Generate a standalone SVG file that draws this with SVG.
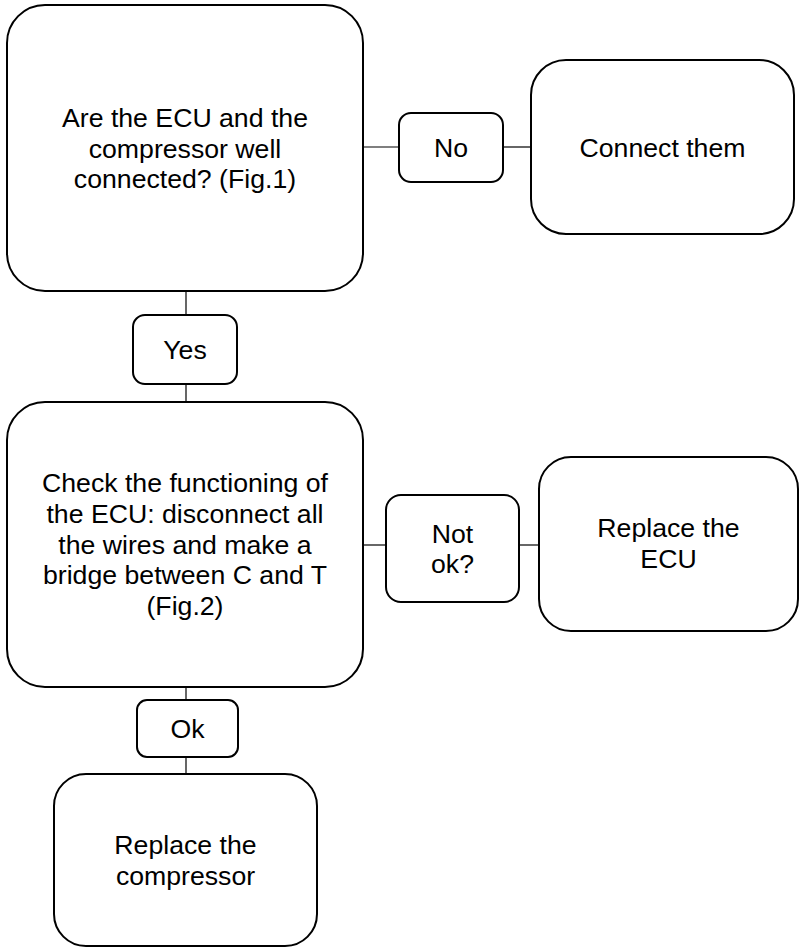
<svg xmlns="http://www.w3.org/2000/svg" width="801" height="948" viewBox="0 0 801 948">
<style>
.box{fill:#fff;stroke:#000;stroke-width:2}
.ln{stroke:#000;stroke-width:1.2;fill:none}
text{font-family:"Liberation Sans",Arial,sans-serif;font-size:26.67px;fill:#000;text-anchor:middle}
</style>
<rect width="801" height="948" fill="#fff"/>
<g id="connectors">
<line class="ln" x1="186" y1="291" x2="186" y2="315"/>
<line class="ln" x1="186" y1="384" x2="186" y2="402"/>
<line class="ln" x1="186" y1="687" x2="186" y2="700"/>
<line class="ln" x1="186" y1="757" x2="186" y2="774"/>
<line class="ln" x1="363" y1="147" x2="399" y2="147"/>
<line class="ln" x1="503" y1="147" x2="531" y2="147"/>
<line class="ln" x1="363" y1="545" x2="386" y2="545"/>
<line class="ln" x1="519" y1="545" x2="539" y2="545"/>
</g>
<g id="q1">
<rect class="box" x="7" y="5" width="356" height="286" rx="38"/>
<text x="185" y="127">Are the ECU and the</text>
<text x="185" y="157.5">compressor well</text>
<text x="185" y="188">connected? (Fig.1)</text>
</g>
<g id="no">
<rect class="box" x="399" y="113" width="104" height="69" rx="12"/>
<text x="451" y="157">No</text>
</g>
<g id="connect">
<rect class="box" x="531" y="60" width="263" height="174" rx="35"/>
<text x="662.5" y="157">Connect them</text>
</g>
<g id="yes">
<rect class="box" x="133" y="315" width="104" height="69" rx="12"/>
<text x="185" y="359">Yes</text>
</g>
<g id="q2">
<rect class="box" x="7" y="402" width="356" height="285" rx="38"/>
<text x="185" y="492">Check the functioning of</text>
<text x="185" y="523">the ECU: disconnect all</text>
<text x="185" y="554">the wires and make a</text>
<text x="185" y="584">bridge between C and T</text>
<text x="185" y="615">(Fig.2)</text>
</g>
<g id="notok">
<rect class="box" x="386" y="495" width="133" height="107" rx="15"/>
<text x="452.5" y="543">Not</text>
<text x="452.5" y="573">ok?</text>
</g>
<g id="replace-ecu">
<rect class="box" x="539" y="457" width="259" height="174" rx="32"/>
<text x="668.5" y="537">Replace the</text>
<text x="668.5" y="568">ECU</text>
</g>
<g id="ok">
<rect class="box" x="137" y="700" width="101" height="57" rx="10"/>
<text x="187.5" y="738">Ok</text>
</g>
<g id="replace-comp">
<rect class="box" x="54" y="774" width="263" height="172" rx="32"/>
<text x="185.5" y="854">Replace the</text>
<text x="185.5" y="885">compressor</text>
</g>
</svg>
